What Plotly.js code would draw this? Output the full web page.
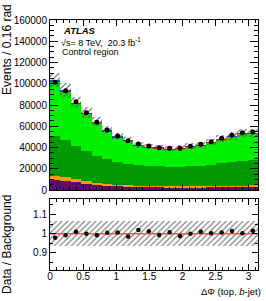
<!DOCTYPE html>
<html>
<head>
<meta charset="utf-8">
<script src="https://cdn.plot.ly/plotly-3.0.1.min.js"></script>
<style>html,body{margin:0;padding:0;background:#fff;}#chart{width:266px;height:301px;}</style>
</head>
<body>
<div id="chart"></div>
<script>
// Binning: 20 bins of 0.16 rad from 0 to pi
const nBins = 20;
const xMin = 0, xMax = Math.PI;

// Observed data (events per bin)
const dataEvents = [101400, 93500, 83100, 72800, 63700, 56500, 50800, 46300, 43300, 41400,
                    39800, 39200, 39200, 41100, 43000, 45500, 48700, 51500, 53900, 54600];

// Background components (events per bin), bottom to top of the stack
const bkgPurple = [9800, 8800, 7300, 5800, 5000, 4200, 3400, 3000, 2700, 2500,
                   2400, 2300, 2300, 2300, 2300, 2400, 2500, 2600, 2700, 2800];
const bkgOrange = [3300, 3500, 3100, 2300, 1600, 1500, 1500, 1300, 1300, 1200,
                   1200, 1200, 1100, 1200, 1200, 1400, 1400, 1500, 1500, 1600];
const bkgDarkGreen = [38000, 34700, 31300, 28600, 25700, 23200, 21200, 19900, 19500, 19100,
                      18700, 18500, 18600, 18800, 19400, 20200, 21300, 22400, 23400, 23900];
const bkgBrightGreen = [50400, 45350, 38800, 34500, 30500, 26050, 23250, 21700, 17950, 17050,
                        16750, 15850, 16650, 17750, 18550, 20200, 21950, 23000, 24800, 24100];
const bkgRed = [1200, 1100, 1000, 900, 800, 700, 650, 600, 600, 600,
                600, 600, 600, 600, 650, 700, 700, 750, 800, 800];
const bkgBlue = [900, 850, 800, 700, 600, 550, 500, 500, 450, 450,
                 450, 450, 450, 450, 500, 500, 550, 550, 600, 600];

// Relative uncertainty on the total background
const relUnc = [0.067, 0.067, 0.067, 0.067, 0.067, 0.067, 0.067, 0.067, 0.067, 0.067,
                0.067, 0.067, 0.067, 0.067, 0.067, 0.067, 0.067, 0.067, 0.067, 0.067];

const components = [
  {vals: bkgPurple, color: '#5c0a6b'},
  {vals: bkgOrange, color: '#ff9900'},
  {vals: bkgDarkGreen, color: '#009a00'},
  {vals: bkgBrightGreen, color: '#00f000'},
  {vals: bkgRed, color: '#ff0000'},
  {vals: bkgBlue, color: '#3333ff'}
];

const binW = (xMax - xMin) / nBins;
const centers = [];
for (let i = 0; i < nBins; i++) centers.push(xMin + (i + 0.5) * binW);

const traces = [];
let cum = new Array(nBins).fill(0);
components.forEach(c => {
  traces.push({
    type: 'bar', x: centers, y: c.vals, base: cum.slice(), width: binW,
    marker: {color: c.color, line: {width: 0}}, xaxis: 'x', yaxis: 'y',
    hoverinfo: 'skip', showlegend: false
  });
  cum = cum.map((v, i) => v + c.vals[i]);
});
const total = cum;

// hatched uncertainty band on the stack
traces.push({
  type: 'bar', x: centers, width: binW,
  base: total.map((t, i) => t * (1 - relUnc[i])),
  y: total.map((t, i) => 2 * t * relUnc[i]),
  marker: {color: 'rgba(0,0,0,0)', line: {width: 0},
           pattern: {shape: '/', fgcolor: '#555555', bgcolor: 'rgba(0,0,0,0)', size: 4, solidity: 0.25}},
  xaxis: 'x', yaxis: 'y', hoverinfo: 'skip', showlegend: false
});

// data points
traces.push({
  type: 'scatter', mode: 'markers', x: centers, y: dataEvents,
  marker: {color: '#000000', size: 5}, xaxis: 'x', yaxis: 'y', showlegend: false, cliponaxis: false
});

// ratio panel: uncertainty band
traces.push({
  type: 'bar', x: centers, width: binW,
  base: relUnc.map(u => 1 - u), y: relUnc.map(u => 2 * u),
  marker: {color: 'rgba(0,0,0,0)', line: {width: 0},
           pattern: {shape: '/', fgcolor: '#666666', bgcolor: 'rgba(0,0,0,0)', size: 4, solidity: 0.25}},
  xaxis: 'x2', yaxis: 'y2', hoverinfo: 'skip', showlegend: false
});
// unity line
traces.push({
  type: 'scatter', mode: 'lines', x: [xMin, xMax], y: [1, 1],
  line: {color: '#ff5050', width: 1.5}, xaxis: 'x2', yaxis: 'y2', showlegend: false
});
// ratio points
traces.push({
  type: 'scatter', mode: 'markers', x: centers, y: dataEvents.map((d, i) => d / total[i]),
  marker: {color: '#000000', size: 4.5}, xaxis: 'x2', yaxis: 'y2', showlegend: false
});

const fontFam = 'Liberation Sans, Arial, Helvetica, sans-serif';
const axCommon = {
  showline: true, linecolor: '#000', linewidth: 1, mirror: 'ticks',
  ticks: 'inside', tickcolor: '#000', showgrid: false, zeroline: false,
  tickfont: {family: fontFam, size: 10, color: '#000'}
};

const layout = {
  width: 266, height: 301,
  margin: {l: 50, r: 8, t: 20, b: 31},
  paper_bgcolor: '#fff', plot_bgcolor: '#fff',
  barmode: 'overlay', bargap: 0, showlegend: false,
  font: {family: fontFam, color: '#000'},
  xaxis: Object.assign({}, axCommon, {
    domain: [0, 1], range: [xMin, xMax], anchor: 'y', showticklabels: false,
    tick0: 0, dtick: 0.5, ticklen: 6, minor: {dtick: 0.1, ticklen: 3, ticks: 'inside', tickcolor: '#000'}
  }),
  yaxis: Object.assign({}, axCommon, {
    domain: [0.32, 1], range: [0, 160000], anchor: 'x', tickformat: 'd',
    tick0: 0, dtick: 20000, ticklen: 8, minor: {dtick: 5000, ticklen: 4, ticks: 'inside', tickcolor: '#000'}
  }),
  xaxis2: Object.assign({}, axCommon, {
    domain: [0, 1], range: [xMin, xMax], anchor: 'y2', ticklabelstandoff: -3,
    tick0: 0, dtick: 0.5, ticklen: 6, minor: {dtick: 0.1, ticklen: 3, ticks: 'inside', tickcolor: '#000'}
  }),
  yaxis2: Object.assign({}, axCommon, {
    domain: [0, 0.283], range: [0.81, 1.18], anchor: 'x2',
    tickvals: [0.9, 1, 1.1], ticklen: 6,
    minor: {tickvals: [0.85, 0.95, 1.05, 1.15], ticklen: 3, ticks: 'inside', tickcolor: '#000'}
  }),
  annotations: [
    {xref: 'paper', yref: 'paper', x: -0.207, y: 1.074, xanchor: 'center', yanchor: 'top',
     textangle: -90, showarrow: false, text: 'Events / 0.16 rad', font: {size: 12, family: fontFam}},
    {xref: 'paper', yref: 'paper', x: -0.207, y: 0.104, xanchor: 'center', yanchor: 'middle',
     textangle: -90, showarrow: false, text: 'Data / Background', font: {size: 12, family: fontFam}},
    {xref: 'paper', yref: 'paper', x: 1.022, y: -0.086, xanchor: 'right', yanchor: 'middle',
     showarrow: false, text: 'ΔΦ (top, <i>b</i>-jet)', font: {size: 9.5, family: fontFam}},
    {xref: 'paper', yref: 'paper', x: 0.052, y: 0.960, xanchor: 'left', yanchor: 'middle',
     showarrow: false, text: '<b><i>ATLAS</i></b>', font: {size: 9.5, family: fontFam}},
    {xref: 'paper', yref: 'paper', x: 0.044, y: 0.913, xanchor: 'left', yanchor: 'middle',
     showarrow: false, text: '√s= 8 TeV,  20.3 fb<sup>-1</sup>', font: {size: 9, family: fontFam}},
    {xref: 'paper', yref: 'paper', x: 0.048, y: 0.873, xanchor: 'left', yanchor: 'middle',
     showarrow: false, text: 'Control region', font: {size: 9, family: fontFam}}
  ]
};

Plotly.newPlot('chart', traces, layout, {staticPlot: true, displayModeBar: false});
</script>
</body>
</html>
